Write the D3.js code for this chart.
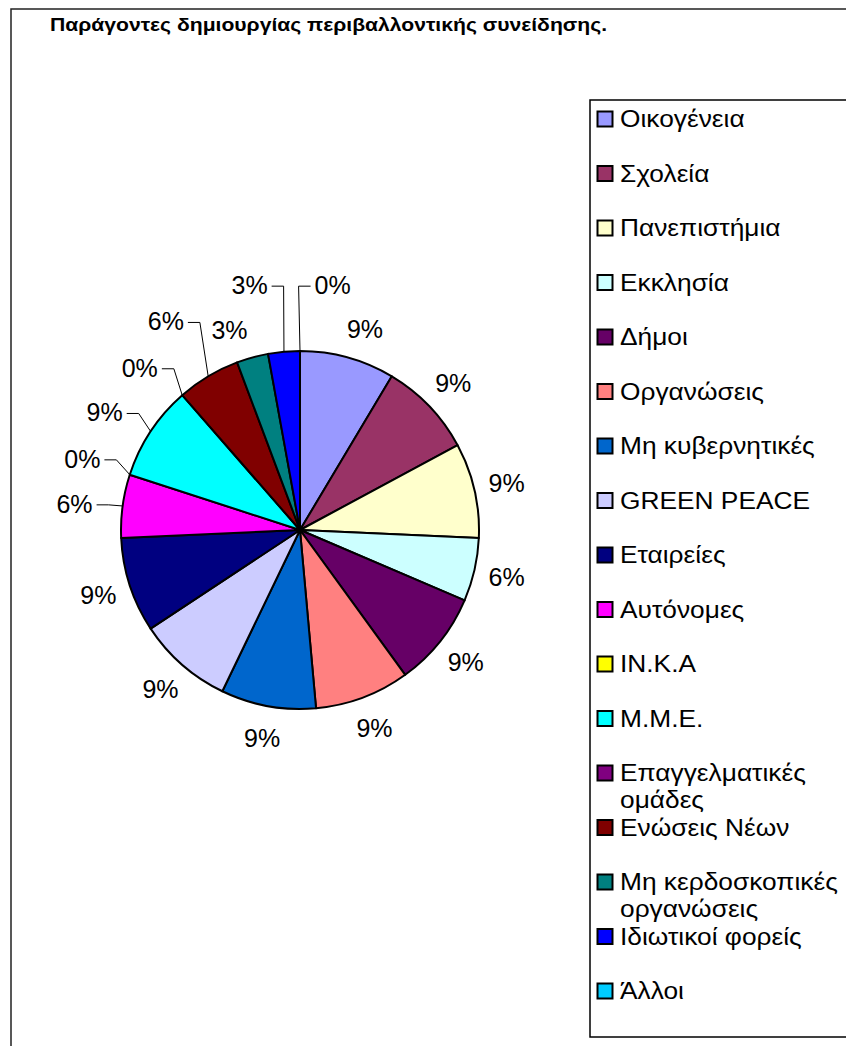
<!DOCTYPE html>
<html>
<head>
<meta charset="utf-8">
<script src="https://cdnjs.cloudflare.com/ajax/libs/d3/7.8.5/d3.min.js"></script>
<style>
  body { margin: 0; background: #fff; }
  svg { display: block; font-family: "Liberation Sans", Arial, sans-serif; }
</style>
</head>
<body>
<div id="chart"></div>
<script>
// chart data
var title = "Παράγοντες δημιουργίας περιβαλλοντικής συνείδησης.";

var categories = ["Οικογένεια", "Σχολεία", "Πανεπιστήμια", "Εκκλησία", "Δήμοι",
  "Οργανώσεις", "Μη κυβερνητικές", "GREEN PEACE", "Εταιρείες", "Αυτόνομες",
  "ΙΝ.Κ.Α", "Μ.Μ.Ε.", "Επαγγελματικές ομάδες", "Ενώσεις Νέων",
  "Μη κερδοσκοπικές οργανώσεις", "Ιδιωτικοί φορείς", "Άλλοι"];

var counts = [3, 3, 3, 2, 3, 3, 3, 3, 3, 2, 0, 3, 0, 2, 1, 1, 0];

var colors = ["#9999FF", "#993366", "#FFFFCC", "#CCFFFF", "#660066", "#FF8080",
  "#0066CC", "#CCCCFF", "#000080", "#FF00FF", "#FFFF00", "#00FFFF",
  "#800080", "#800000", "#008080", "#0000FF", "#00CCFF"];

// label placement tweaks (angle offset in deg, radius, leader line)
var labelAdjust = {
  0:  {da: 2.5,  r: 211},
  9:  {da: -1.1, r: 227, leader: true},
  10: {da: 0.1,  r: 229, leader: true},
  11: {da: -2.4, r: 228, leader: true},
  12: {da: -3.5, r: 228, leader: true},
  13: {da: -1.9, r: 248, leader: true},
  14: {da: -4.0, r: 212},
  15: {da: -6.5, r: 250, leader: true},
  16: {da: 7.6,  r: 247, leader: true}
};

var width = 846,
    height = 1046,
    cx = 300,
    cy = 530,
    radius = 179,
    labelR = 212;

var svg = d3.select("#chart").append("svg")
    .attr("width", width)
    .attr("height", height);

// outer chart frame
svg.append("rect")
    .attr("x", 11)
    .attr("y", 9)
    .attr("width", width + 20)
    .attr("height", height + 20)
    .style("fill", "none")
    .style("stroke", "#222")
    .style("stroke-width", "1.5px");

svg.append("text")
    .attr("x", 50)
    .attr("y", 31)
    .attr("textLength", 557)
    .attr("lengthAdjust", "spacingAndGlyphs")
    .style("font-size", "18.5px")
    .style("font-weight", "bold")
    .text(title);

var total = d3.sum(counts);

var pie = d3.pie()
    .sort(null)
    .value(function(d) { return d; });

var arcs = pie(counts);

var arc = d3.arc()
    .innerRadius(0)
    .outerRadius(radius);

var g = svg.append("g")
    .attr("transform", "translate(" + cx + "," + cy + ")");

g.selectAll("path.slice")
    .data(arcs.filter(function(d) { return d.value > 0; }))
  .enter().append("path")
    .attr("class", "slice")
    .attr("d", arc)
    .style("fill", function(d) { return colors[d.index]; })
    .style("stroke", "#000")
    .style("stroke-width", "2px")
    .style("stroke-linejoin", "round");

function polar(angle, r) {
  return [r * Math.sin(angle), -r * Math.cos(angle)];
}

// percentage labels
var labels = g.append("g").attr("class", "labels");

arcs.forEach(function(d, i) {
  var mid = (d.startAngle + d.endAngle) / 2;
  var adj = labelAdjust[i] || {da: 0, r: labelR};
  var a = mid + adj.da * Math.PI / 180;
  var p = polar(a, adj.r);
  var txt = Math.round(d.value / total * 100) + "%";

  var t = labels.append("text")
      .attr("x", p[0])
      .attr("y", p[1])
      .attr("dy", "0.35em")
      .style("text-anchor", "middle")
      .style("font-size", "25px")
      .style("fill", "#000")
      .text(txt);

  if (adj.leader) {
    var w = t.node().getComputedTextLength();
    var end = polar(mid, radius);
    var side = p[0] < end[0] ? 1 : -1;
    var x0 = p[0] + side * (w / 2 + 4);
    var x1 = x0 + side * 12;
    labels.append("path")
        .attr("d", "M" + x0 + "," + (p[1] + 1) + "H" + x1 + "L" + end[0] + "," + end[1])
        .style("fill", "none")
        .style("stroke", "#000")
        .style("stroke-width", "1px");
  }
});

// legend
var legendX = 590,
    legendY = 100,
    rowStart = 119,
    rowStep = 54.5,
    lineH = 27,
    textX = 620,
    stretch = 1.12,
    maxTextW = 232;

svg.append("rect")
    .attr("x", legendX)
    .attr("y", legendY)
    .attr("width", 280)
    .attr("height", 937)
    .style("fill", "#fff")
    .style("stroke", "#000")
    .style("stroke-width", "1.5px");

var legend = svg.append("g").attr("class", "legend");

categories.forEach(function(name, i) {
  var yc = rowStart + i * rowStep;

  legend.append("rect")
      .attr("x", 597.5)
      .attr("y", yc - 7.5)
      .attr("width", 15)
      .attr("height", 15)
      .style("fill", colors[i])
      .style("stroke", "#000")
      .style("stroke-width", "2px");

  var t = legend.append("text")
      .attr("transform", "translate(" + textX + "," + yc + ") scale(" + stretch + ",1)")
      .attr("dy", "0.36em")
      .style("font-size", "23.5px")
      .style("fill", "#000");

  // wrap words like the original legend
  var words = name.split(" "),
      line = [],
      tspan = t.append("tspan").attr("x", 0);
  words.forEach(function(word) {
    line.push(word);
    tspan.text(line.join(" "));
    if (tspan.node().getComputedTextLength() * stretch > maxTextW && line.length > 1) {
      line.pop();
      tspan.text(line.join(" "));
      line = [word];
      tspan = t.append("tspan")
          .attr("x", 0)
          .attr("dy", lineH)
          .text(word);
    }
  });
});
</script>
</body>
</html>
